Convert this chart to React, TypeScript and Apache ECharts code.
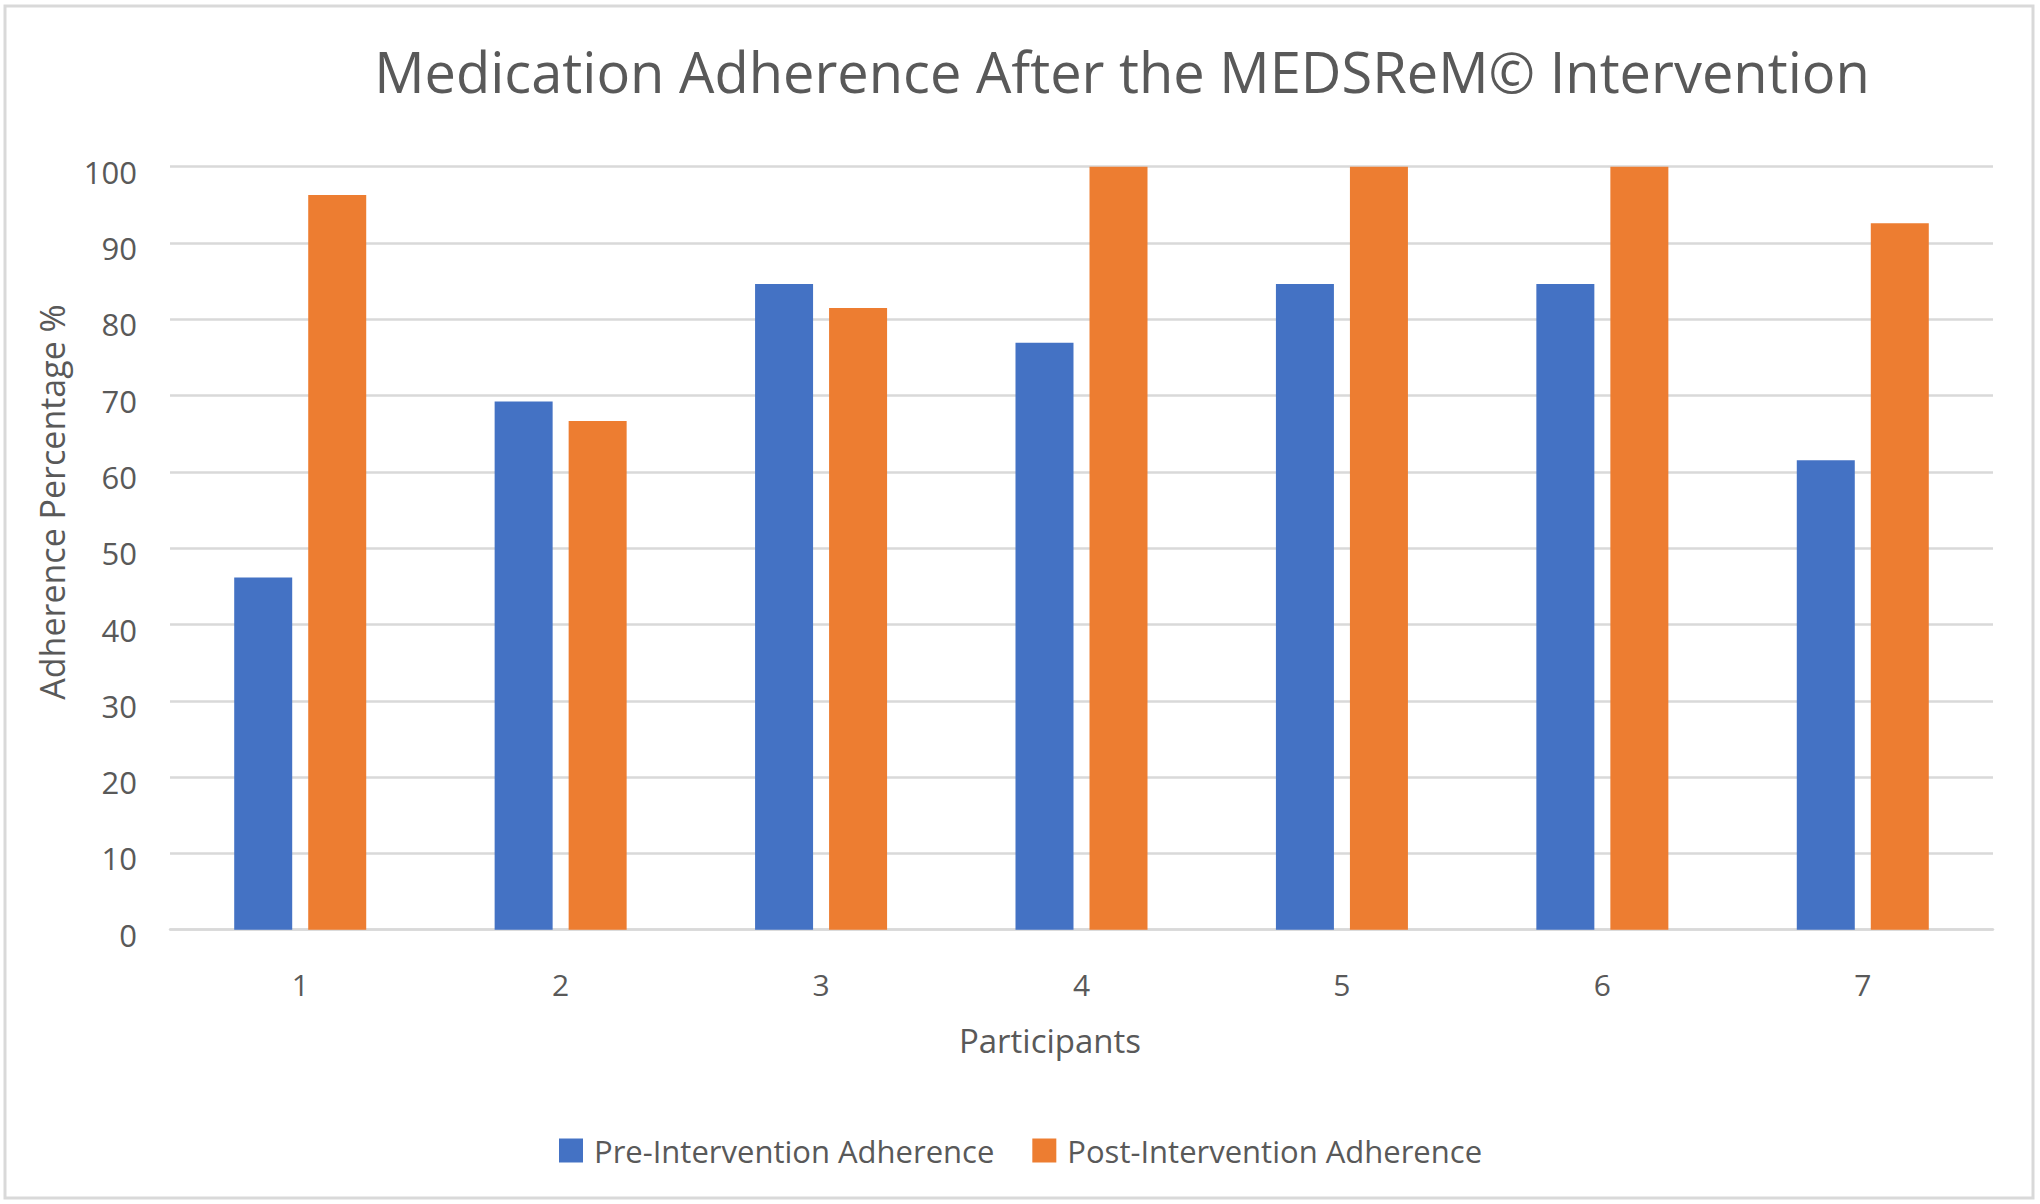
import React, { useEffect, useRef } from "react";
import * as echarts from "echarts";

const categories = ["1", "2", "3", "4", "5", "6", "7"];
const preValues = [46.15, 69.23, 84.62, 76.92, 84.62, 84.62, 61.54];
const postValues = [96.3, 66.67, 81.48, 100, 100, 100, 92.59];
const seriesNames = ["Pre-Intervention Adherence", "Post-Intervention Adherence"];
const titleText = "Medication Adherence After the MEDSReM\u00A9 Intervention";
const xAxisTitle = "Participants";
const yAxisTitle = "Adherence Percentage %";

const FONT = "'Open Sans', 'Noto Sans', sans-serif";
const TEXT_COLOR = "#595959";
const GRID_COLOR = "#d9d9d9";

export default function App() {
  const ref = useRef<HTMLDivElement>(null);

  useEffect(() => {
    if (!ref.current) return;
    const chart = echarts.init(ref.current, undefined, { renderer: "svg" });
    chart.setOption({
      animation: false,
      backgroundColor: "#ffffff",
      textStyle: { fontFamily: FONT },
      grid: { left: 170, right: 47, top: 166.7, bottom: 274.3, containLabel: false },
      legend: {
        left: 559,
        top: 1135,
        padding: 0,
        itemWidth: 24,
        itemHeight: 24,
        itemGap: 38,
        icon: "rect",
        data: seriesNames,
        textStyle: {
          fontFamily: FONT,
          fontSize: 31,
          lineHeight: 30,
          color: TEXT_COLOR,
          padding: [0, 0, 0, 6],
        },
      },
      xAxis: {
        type: "category",
        data: categories,
        axisTick: { show: false },
        axisLine: { lineStyle: { color: GRID_COLOR, width: 2.5 } },
        axisLabel: {
          fontFamily: FONT,
          fontSize: 30,
          lineHeight: 30,
          color: TEXT_COLOR,
          margin: 40,
        },
      },
      yAxis: {
        type: "value",
        min: 0,
        max: 100,
        interval: 10,
        axisLine: { show: false },
        axisTick: { show: false },
        splitLine: { lineStyle: { color: GRID_COLOR, width: 2.5 } },
        axisLabel: {
          fontFamily: FONT,
          fontSize: 31,
          color: TEXT_COLOR,
          margin: 33,
          verticalAlign: "top",
          lineHeight: 10,
        },
      },
      series: [
        {
          name: seriesNames[0],
          type: "bar",
          data: preValues,
          barWidth: 58,
          barGap: "27.6%",
          itemStyle: { color: "#4472C4" },
        },
        {
          name: seriesNames[1],
          type: "bar",
          data: postValues,
          barWidth: 58,
          barGap: "27.6%",
          itemStyle: { color: "#ED7D31" },
        },
      ],
      graphic: [
        {
          type: "rect",
          shape: { x: 5, y: 6, width: 2028, height: 1192 },
          style: { fill: "none", stroke: GRID_COLOR, lineWidth: 3 },
          silent: true,
        },
        {
          type: "text",
          x: 1122,
          y: 71,
          style: {
            text: titleText,
            fontFamily: FONT,
            fontSize: 56,
            fill: TEXT_COLOR,
            align: "center",
            verticalAlign: "middle",
          },
        },
        {
          type: "text",
          x: 1050,
          y: 1040.5,
          style: {
            text: xAxisTitle,
            fontFamily: FONT,
            fontSize: 33,
            fill: TEXT_COLOR,
            align: "center",
            verticalAlign: "middle",
          },
        },
        {
          type: "text",
          x: 52,
          y: 502,
          rotation: Math.PI / 2,
          style: {
            text: yAxisTitle,
            fontFamily: FONT,
            fontSize: 34,
            fill: TEXT_COLOR,
            align: "center",
            verticalAlign: "middle",
          },
        },
      ],
    });
    return () => chart.dispose();
  }, []);

  return (
    <div
      ref={ref}
      style={{ position: "absolute", left: 0, top: 0, width: 2040, height: 1204, background: "#fff" }}
    />
  );
}
